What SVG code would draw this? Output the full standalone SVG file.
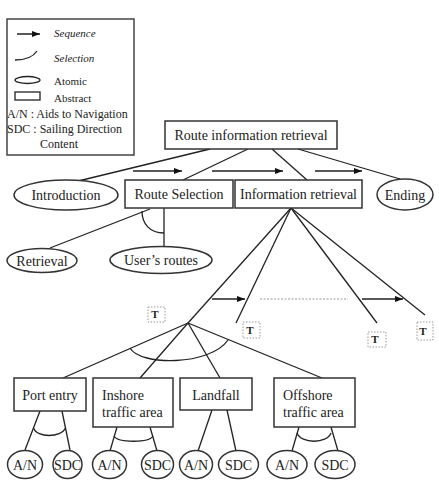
<svg xmlns="http://www.w3.org/2000/svg" width="439" height="481" viewBox="0 0 439 481" font-family="'Liberation Serif', 'DejaVu Serif', serif">
<style>
text{font-family:'Liberation Serif','DejaVu Serif',serif;fill:#222}
.lbl{font-size:14px}
.mid{text-anchor:middle}
.leg{font-size:11px}
.leg2{font-size:12px}
.box{fill:#fff;stroke:#333;stroke-width:1.5}
.ell{fill:#fff;stroke:#333;stroke-width:1.5}
.ln{fill:none;stroke:#222;stroke-width:1.3}
.seq{fill:none;stroke:#222;stroke-width:1.5;marker-end:url(#ah)}
.dot{fill:none;stroke:#999;stroke-width:1;stroke-dasharray:1.5 1.5}
.t{font-size:11px;font-weight:bold;text-anchor:middle}
</style>
<defs>
<marker id="ah" markerUnits="userSpaceOnUse" markerWidth="8" markerHeight="6" refX="8" refY="3" orient="auto">
<path d="M0,0 L8,3 L0,6 z" fill="#111"/>
</marker>
</defs>
<rect width="439" height="481" fill="#fff"/>
<g id="legend">
<rect x="7" y="19" width="127" height="136" fill="none" stroke="#444" stroke-width="1.5"/>
<line x1="17" y1="34" x2="40" y2="34" class="seq"/>
<text x="54" y="37" class="leg" font-style="italic">Sequence</text>
<path d="M15,60 Q31,60 37,51" class="ln"/>
<text x="54" y="62" class="leg" font-style="italic">Selection</text>
<ellipse cx="27.5" cy="80" rx="12.5" ry="3.5" fill="none" stroke="#222" stroke-width="1.3"/>
<text x="54" y="85" class="leg">Atomic</text>
<rect x="15" y="92" width="25" height="8" fill="none" stroke="#222" stroke-width="1.3"/>
<text x="54" y="102" class="leg">Abstract</text>
<text x="7" y="118" class="leg2">A/N : Aids to Navigation</text>
<text x="7" y="133" class="leg2">SDC : Sailing Direction</text>
<text x="40" y="148" class="leg2">Content</text>
</g>
<g id="connectors">
<line x1="210" y1="149" x2="70" y2="183" class="ln"/>
<line x1="248" y1="149" x2="183" y2="180" class="ln"/>
<line x1="272" y1="149" x2="307" y2="180" class="ln"/>
<line x1="298" y1="149" x2="400" y2="179" class="ln"/>
<line x1="133" y1="171" x2="182" y2="171" class="seq"/>
<line x1="212" y1="171" x2="283" y2="171" class="seq"/>
<line x1="315" y1="171" x2="362" y2="171" class="seq"/>
<line x1="150" y1="209" x2="50" y2="248" class="ln"/>
<line x1="164" y1="208" x2="164" y2="247" class="ln"/>
<path d="M142,211 C142,224 150,233 164,233" class="ln"/>
<line x1="291" y1="208" x2="188" y2="323" class="ln"/>
<line x1="291" y1="208" x2="236" y2="323" class="ln"/>
<line x1="291" y1="208" x2="377" y2="323" class="ln"/>
<line x1="291" y1="208" x2="425" y2="315" class="ln"/>
<line x1="212" y1="299" x2="245" y2="299" class="seq"/>
<line x1="260" y1="299" x2="348" y2="299" stroke="#999" stroke-width="1" stroke-dasharray="2 1.5"/>
<line x1="362" y1="299" x2="403" y2="299" class="seq"/>
<line x1="188" y1="323" x2="63" y2="378" class="ln"/>
<line x1="188" y1="323" x2="140" y2="378" class="ln"/>
<line x1="188" y1="323" x2="220" y2="378" class="ln"/>
<line x1="188" y1="323" x2="322" y2="378" class="ln"/>
<path d="M130,348 C140,366 210,366 228,340" class="ln"/>
<line x1="40" y1="411" x2="25" y2="450" class="ln"/>
<line x1="62" y1="411" x2="70" y2="450" class="ln"/>
<path d="M33.5,428 C37,438 61,438 65.5,428" class="ln"/>
<line x1="117" y1="427" x2="110" y2="451" class="ln"/>
<line x1="150" y1="427" x2="157" y2="451" class="ln"/>
<path d="M114,436 C118,443 149,443 153,436" class="ln"/>
<line x1="212" y1="410" x2="198" y2="451" class="ln"/>
<line x1="227" y1="410" x2="236" y2="451" class="ln"/>
<line x1="299" y1="427" x2="292" y2="451" class="ln"/>
<line x1="331" y1="427" x2="338" y2="451" class="ln"/>
<path d="M297,433 C301,444 327,444 331,433" class="ln"/>
</g>
<g id="root"><rect x="165" y="121" width="172" height="28" class="box"/><text x="251" y="140" class="lbl mid">Route information retrieval</text></g>
<g id="introduction"><ellipse cx="66" cy="195" rx="52" ry="15" class="ell"/><text x="66" y="200" class="lbl mid">Introduction</text></g>
<g id="route-selection"><rect x="125" y="180" width="108" height="28" class="box"/><text x="179" y="199" class="lbl mid">Route Selection</text></g>
<g id="information-retrieval"><rect x="235" y="180" width="127" height="28" class="box"/><text x="298.5" y="199" class="lbl mid">Information retrieval</text></g>
<g id="ending"><ellipse cx="405" cy="194.5" rx="28" ry="15.5" class="ell"/><text x="405" y="199.5" class="lbl mid">Ending</text></g>
<g id="retrieval"><ellipse cx="42" cy="260.5" rx="35" ry="12" class="ell"/><text x="42" y="265.5" class="lbl mid">Retrieval</text></g>
<g id="users-routes"><ellipse cx="161" cy="260" rx="51" ry="13.5" class="ell"/><text x="161" y="265" class="lbl mid">User’s routes</text></g>
<g id="t1"><rect x="148" y="307" width="17" height="15" class="dot"/><text x="155" y="318" class="t">T</text></g>
<g id="t2"><rect x="243" y="322" width="17" height="16" class="dot"/><text x="250" y="334" class="t">T</text></g>
<g id="t3"><rect x="368" y="332" width="18" height="15" class="dot"/><text x="375" y="343" class="t">T</text></g>
<g id="t4"><rect x="417" y="322" width="16" height="18" class="dot"/><text x="423" y="335" class="t">T</text></g>
<g id="port-entry"><rect x="14" y="378" width="72" height="33" class="box"/><text x="50" y="400" class="lbl mid">Port entry</text></g>
<g id="inshore"><rect x="93" y="378" width="80" height="49" class="box"/><text x="102" y="400" class="lbl">Inshore</text><text x="102" y="417" class="lbl">traffic area</text></g>
<g id="landfall"><rect x="180" y="378" width="72" height="32" class="box"/><text x="216" y="400" class="lbl mid">Landfall</text></g>
<g id="offshore"><rect x="274" y="378" width="81" height="49" class="box"/><text x="283" y="400" class="lbl">Offshore</text><text x="283" y="417" class="lbl">traffic area</text></g>
<g id="an1"><ellipse cx="25" cy="464.5" rx="17.5" ry="14" class="ell"/><text x="25" y="469.5" class="lbl mid">A/N</text></g>
<g id="sdc1"><ellipse cx="67.5" cy="464.5" rx="14.5" ry="14" class="ell"/><text x="67.5" y="469.5" class="lbl mid">SDC</text></g>
<g id="an2"><ellipse cx="109.5" cy="464.5" rx="17" ry="14" class="ell"/><text x="109.5" y="469.5" class="lbl mid">A/N</text></g>
<g id="sdc2"><ellipse cx="157.5" cy="464.5" rx="16" ry="14" class="ell"/><text x="157.5" y="469.5" class="lbl mid">SDC</text></g>
<g id="an3"><ellipse cx="196" cy="464.5" rx="16.5" ry="14" class="ell"/><text x="196" y="469.5" class="lbl mid">A/N</text></g>
<g id="sdc3"><ellipse cx="238.5" cy="464.5" rx="20" ry="14" class="ell"/><text x="238.5" y="469.5" class="lbl mid">SDC</text></g>
<g id="an4"><ellipse cx="287" cy="464.5" rx="20" ry="14" class="ell"/><text x="287" y="469.5" class="lbl mid">A/N</text></g>
<g id="sdc4"><ellipse cx="335" cy="464.5" rx="20" ry="14" class="ell"/><text x="335" y="469.5" class="lbl mid">SDC</text></g>
</svg>
